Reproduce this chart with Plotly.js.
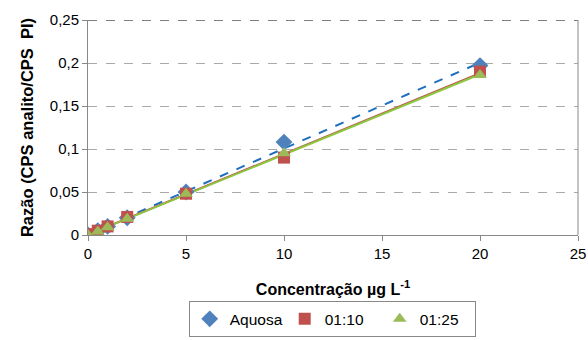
<!DOCTYPE html>
<html><head><meta charset="utf-8">
<script src="https://cdn.plot.ly/plotly-3.0.1.min.js"></script>
<style>body{margin:0;background:#fff}#c{width:588px;height:340px}</style>
</head><body><div id="c"></div>
<script>
const conc = [0, 0.5, 1, 2, 5, 10, 20];
const aquosa = [0.000, 0.005, 0.010, 0.020, 0.050, 0.108, 0.197];
const r110 = [0.001, 0.005, 0.010, 0.021, 0.048, 0.090, 0.190];
const r125 = [0.000, 0.004, 0.009, 0.019, 0.048, 0.095, 0.186];
const names = ['Aquosa', '01:10', '01:25'];
const colors = ['#4F81BD', '#C0504D', '#9BBB59'];
const symbols = ['diamond', 'square', 'triangle-up'];

function fit(x, y) {
  const n = x.length;
  const mx = x.reduce((a,b)=>a+b,0)/n, my = y.reduce((a,b)=>a+b,0)/n;
  let sxy=0, sxx=0;
  for (let i=0;i<n;i++){ sxy+=(x[i]-mx)*(y[i]-my); sxx+=(x[i]-mx)**2; }
  const b = sxy/sxx, a = my-b*mx;
  const xs=[Math.min(...x), Math.max(...x)];
  return {x: xs, y: xs.map(v=>a+b*v)};
}
const series=[aquosa, r110, r125];
const traces=[];
series.forEach((s,i)=>{
  const f=fit(conc,s);
  traces.push({x:f.x,y:f.y,mode:'lines',showlegend:false,hoverinfo:'skip',
    line:{color: i===0?'#1F6FBF':(i===1?'#C0504D':'#8DC63F'), width:2, dash: i===0?'dash':'solid'}});
});
series.forEach((s,i)=>{
  traces.push({x:conc,y:s,mode:'markers',name:names[i],
    marker:{symbol:symbols[i],color:colors[i],size:i===0?13:12}});
});
const layout={
  width:588,height:340,
  margin:{l:88,r:10,t:20,b:105},
  paper_bgcolor:'#fff',plot_bgcolor:'#fff',
  font:{family:'Liberation Sans, Arial, sans-serif',size:15,color:'#000'},
  xaxis:{range:[0,25],dtick:5,tick0:0,showgrid:false,zeroline:false,automargin:false,
    showline:true,linecolor:'#888',ticks:'outside',ticklen:5,tickcolor:'#888',
    tickfont:{size:15},
    title:{text:'<b>Concentração µg L<sup>-1</sup></b>',font:{size:16},standoff:22}},
  yaxis:{range:[0,0.25],dtick:0.05,tick0:0,showgrid:true,gridcolor:'#aaa',griddash:'dash',
    zeroline:false,showline:true,linecolor:'#888',ticks:'outside',ticklen:5,tickcolor:'#888',
    tickfont:{size:15},automargin:false,
    title:{text:'<b>Razão (CPS analito/CPS  PI)</b>',font:{size:16.5},standoff:12}},
  separators:',.',
  legend:{orientation:'h',x:0.565,xref:'container',xanchor:'center',y:0.008,yref:'container',yanchor:'bottom',
    bordercolor:'#888',borderwidth:1,font:{size:15.5},itemwidth:30,entrywidth:50,entrywidthmode:'pixels'},
  shapes:[{type:'line',xref:'paper',yref:'y',x0:0,x1:1,y0:0.25,y1:0.25,line:{color:'#000',width:1,dash:'dash'}},
          {type:'line',xref:'paper',yref:'paper',x0:1,x1:1,y0:0,y1:1,line:{color:'#888',width:1}}]
};
Plotly.newPlot('c',traces,layout,{staticPlot:true});
</script></body></html>
